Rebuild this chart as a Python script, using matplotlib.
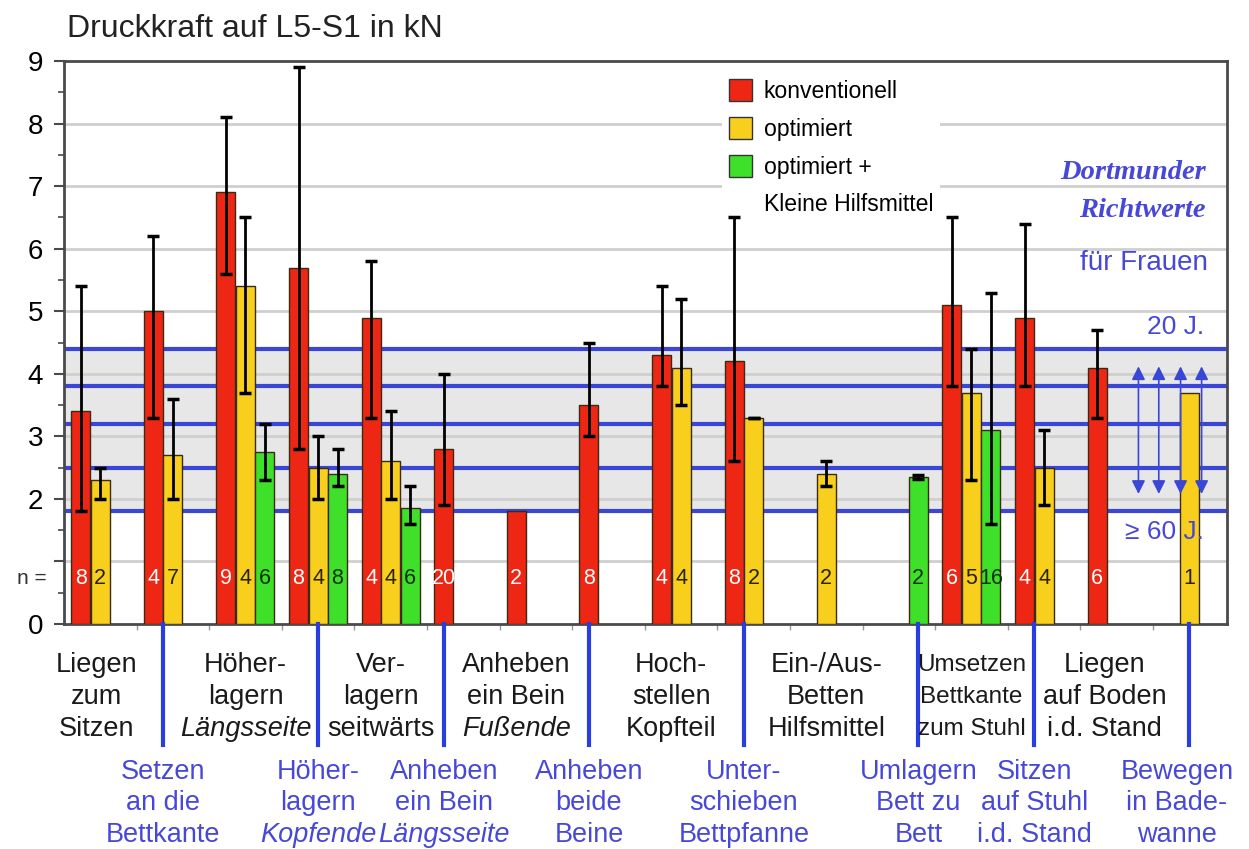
import numpy as np
import matplotlib.pyplot as plt
from matplotlib.patches import Patch
from matplotlib.lines import Line2D
from matplotlib.transforms import blended_transform_factory

plt.rcParams['font.family'] = ['Liberation Sans', 'DejaVu Sans']
FAM = ['Liberation Sans', 'DejaVu Sans']

nan = np.nan

# Tätigkeiten (alternierend: obere schwarze Reihe / untere blaue Reihe)
labels = [
    ["Liegen", "zum", "Sitzen"],
    ["Setzen", "an die", "Bettkante"],
    ["Höher-", "lagern", "Längsseite"],
    ["Höher-", "lagern", "Kopfende"],
    ["Ver-", "lagern", "seitwärts"],
    ["Anheben", "ein Bein", "Längsseite"],
    ["Anheben", "ein Bein", "Fußende"],
    ["Anheben", "beide", "Beine"],
    ["Hoch-", "stellen", "Kopfteil"],
    ["Unter-", "schieben", "Bettpfanne"],
    ["Ein-/Aus-", "Betten", "Hilfsmittel"],
    ["Umlagern", "Bett zu", "Bett"],
    ["Umsetzen", "Bettkante", "zum Stuhl"],
    ["Sitzen", "auf Stuhl", "i.d. Stand"],
    ["Liegen", "auf Boden", "i.d. Stand"],
    ["Bewegen", "in Bade-", "wanne"],
]
italic_lines = {"Längsseite", "Kopfende", "Fußende"}
small_labels = {12}
label_dx = {0: 0.08, 4: -0.14, 14: 0.1, 15: -0.17}

# Druckkraft in kN: Mittelwert, unteres/oberes Ende des Fehlerbalkens, Anzahl n
red    = [3.4, 5.0, 6.9, 5.7, 4.9, 2.8, 1.8, 3.5, 4.3, 4.2, nan, nan, 5.1, 4.9, 4.1, nan]
red_lo = [1.8, 3.3, 5.6, 2.8, 3.3, 1.9, nan, 3.0, 3.8, 2.6, nan, nan, 3.8, 3.8, 3.3, nan]
red_hi = [5.4, 6.2, 8.1, 8.9, 5.8, 4.0, nan, 4.5, 5.4, 6.5, nan, nan, 6.5, 6.4, 4.7, nan]
red_n  = [8, 4, 9, 8, 4, 20, 2, 8, 4, 8, 0, 0, 6, 4, 6, 0]

yellow    = [2.3, 2.7, 5.4, 2.5, 2.6, nan, nan, nan, 4.1, 3.3, 2.4, nan, 3.7, 2.5, nan, 3.7]
yellow_lo = [2.0, 2.0, 3.7, 2.0, 2.0, nan, nan, nan, 3.5, 3.3, 2.2, nan, 2.3, 1.9, nan, nan]
yellow_hi = [2.5, 3.6, 6.5, 3.0, 3.4, nan, nan, nan, 5.2, 3.3, 2.6, nan, 4.4, 3.1, nan, nan]
yellow_n  = [2, 7, 4, 4, 4, 0, 0, 0, 4, 2, 2, 0, 5, 4, 0, 1]

green    = [nan, nan, 2.75, 2.4, 1.85, nan, nan, nan, nan, nan, nan, 2.35, 3.1, nan, nan, nan]
green_lo = [nan, nan, 2.3, 2.2, 1.6, nan, nan, nan, nan, nan, nan, 2.32, 1.6, nan, nan, nan]
green_hi = [nan, nan, 3.2, 2.8, 2.2, nan, nan, nan, nan, nan, nan, 2.38, 5.3, nan, nan, nan]
green_n  = [0, 0, 6, 8, 6, 0, 0, 0, 0, 0, 0, 2, 16, 0, 0, 0]

# Dortmunder Richtwerte für Frauen (20 J. ... >= 60 J.)
richtwerte = [4.4, 3.8, 3.2, 2.5, 1.8]

series = [
    (red, red_lo, red_hi, red_n, '#ee2614', 'white', 'konventionell'),
    (yellow, yellow_lo, yellow_hi, yellow_n, '#f7cf1c', '#2a2208', 'optimiert'),
    (green, green_lo, green_hi, green_n, '#3ee02a', '#0d2e0a', 'optimiert +'),
]

BLUE = '#3a46d6'
BLUE_TXT = '#4848d8'
slot = 0.2686
barw = 0.262

fig = plt.figure(figsize=(12.49, 8.49), dpi=100)
ax = fig.add_axes([0.0512, 0.265, 0.9312, 0.663])
ax.set_xlim(-0.5, 15.52)
ax.set_ylim(0, 9)

# graues Band und blaue Richtwertlinien
ax.axhspan(min(richtwerte), max(richtwerte), color='#e7e7e7', zorder=0)
for v in range(1, 9):
    ax.axhline(v, color='#cfcfcf', lw=2, zorder=0.5)
for v in richtwerte:
    ax.axhline(v, color=BLUE, lw=3, zorder=1)

bar_x = {i: [] for i in range(len(labels))}
for k, (vals, lo, hi, ns, col, ncol, _) in enumerate(series):
    vals = np.array(vals, dtype=float)
    lo = np.array(lo, dtype=float)
    hi = np.array(hi, dtype=float)
    x = np.arange(len(vals)) + (k - 1) * slot
    m = ~np.isnan(vals)
    ax.bar(x[m], vals[m], width=barw, color=col, edgecolor='#3b2a14', lw=1, zorder=3)
    e = m & ~np.isnan(lo)
    ax.errorbar(x[e], vals[e], yerr=[vals[e] - lo[e], hi[e] - vals[e]], fmt='none',
                ecolor='black', elinewidth=2, capsize=4.5, capthick=2.5, zorder=4)
    for i in np.where(m)[0]:
        bar_x[i].append(x[i])
        ax.text(x[i], 0.73, str(ns[i]), ha='center', va='center', color=ncol,
                fontsize=15.5, zorder=5)

# Doppelpfeile für die Altersspanne
for xa in [14.30, 14.58, 14.88, 15.17]:
    ax.annotate('', xy=(xa, 4.12), xytext=(xa, 2.08),
                arrowprops=dict(arrowstyle='<|-|>', color=BLUE, lw=1.2,
                                mutation_scale=20, shrinkA=0, shrinkB=0), zorder=6)

ax.text(15.23, 7.22, 'Dortmunder', ha='right', va='center', color=BLUE_TXT,
        fontsize=20.5, family='Liberation Serif', weight='bold', style='italic')
ax.text(15.23, 6.61, 'Richtwerte', ha='right', va='center', color=BLUE_TXT,
        fontsize=20.5, family='Liberation Serif', weight='bold', style='italic')
ax.text(15.25, 5.77, 'für Frauen', ha='right', va='center', color=BLUE_TXT, fontsize=20)
ax.text(15.2, 4.75, '20 J.', ha='right', va='center', color=BLUE_TXT, fontsize=19)
ax.text(15.2, 1.47, '≥ 60 J.', ha='right', va='center', color=BLUE_TXT, fontsize=19)

# Achsen
for s in ax.spines.values():
    s.set_color('#4a4a4a')
    s.set_linewidth(2)
ax.set_yticks(range(10))
ax.set_yticklabels(['' if v == 1 else str(v) for v in range(10)], fontsize=20)
ax.set_yticks(np.arange(0.5, 9, 1), minor=True)
ax.tick_params(axis='y', which='major', length=7, width=1.5, color='#4a4a4a', pad=8)
ax.tick_params(axis='y', which='minor', length=4, width=1.2, color='#4a4a4a')
ax.set_xticks(np.arange(0.5, 15.5, 1))
ax.set_xticklabels([])
ax.tick_params(axis='x', length=4, width=1, color='#9a9a9a')

fig.text(0.054, 0.966, 'Druckkraft auf L5-S1 in kN', fontsize=23, va='center', color='#222222')
fig.text(0.014, 0.319, 'n =', fontsize=15, va='center', color='#333333')

handles = [Patch(facecolor=c[4], edgecolor='#333333', lw=1) for c in series]
handles.append(Patch(facecolor='none', edgecolor='none'))
names = [c[6] for c in series] + ['Kleine Hilfsmittel']
leg = ax.legend(handles, names, loc='upper left', bbox_to_anchor=(0.566, 0.98),
                frameon=True, facecolor='white', edgecolor='none', framealpha=1,
                prop={'family': FAM, 'size': 16.6}, handlelength=1.0, handleheight=1.1,
                handletextpad=0.5, labelspacing=0.6, borderpad=0.3, borderaxespad=0)
leg.set_zorder(2)

# Beschriftung unter der Achse
trans = blended_transform_factory(ax.transData, fig.transFigure)
row_y = [[665, 697, 729], [772, 803, 835]]
for i, lines in enumerate(labels):
    xc = np.mean(bar_x[i])
    row = i % 2
    color = '#1a1a1a' if row == 0 else BLUE_TXT
    if row == 1:
        fig.add_artist(Line2D([xc, xc], [1 - 624 / 849, 1 - 745 / 849], transform=trans,
                              color='#2a3ee0', lw=3, clip_on=False))
    xc += label_dx.get(i, 0)
    size = 17.5 if i in small_labels else 19.5
    for j, t in enumerate(lines):
        style = 'italic' if t in italic_lines else 'normal'
        fig.text(xc, 1 - row_y[row][j] / 849, t, transform=trans, ha='center',
                 va='center', color=color, family=FAM, size=size, style=style)

fig.savefig('out.png', dpi=100)
